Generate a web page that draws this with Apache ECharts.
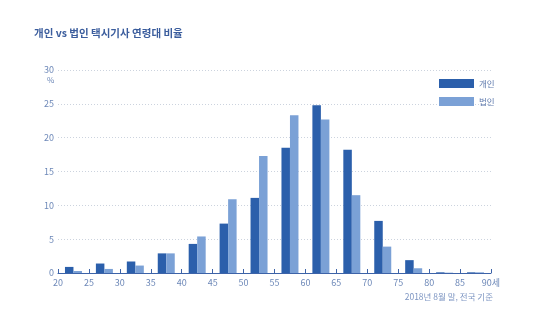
<!DOCTYPE html>
<html><head><meta charset="utf-8">
<script src="https://cdn.jsdelivr.net/npm/echarts@6/dist/echarts.min.js"></script>
<style>html,body{margin:0;padding:0;background:#fff}#c{width:540px;height:330px}</style>
</head><body><div id="c"></div>
<script>
var categories = ['20','25','30','35','40','45','50','55','60','65','70','75','80','85'];
var personal = [0.9,1.4,1.7,2.9,4.3,7.3,11.1,18.5,24.8,18.2,7.7,1.9,0.1,0.1];
var corporate = [0.3,0.6,1.1,2.9,5.4,10.9,17.3,23.3,22.7,11.5,3.9,0.7,0.05,0.1];
var seriesNames = ['개인','법인'];
var xTicks = [20,25,30,35,40,45,50,55,60,65,70,75,80,85,90];
var yTicks = [0,5,10,15,20,25,30];

var FONT = '"Noto Sans CJK KR", "Noto Sans", sans-serif';
var TICKC = '#6d88b8';
var chart = echarts.init(document.getElementById('c'), null, {renderer:'canvas'});
chart.setOption({
  animation:false,
  textStyle:{fontFamily:FONT},
  title:{text:'개인 vs 법인 택시기사 연령대 비율', left:29, top:23,
    textStyle:{fontSize:10.5, fontWeight:'bold', color:'#3b5d9d', fontFamily:FONT}},
  legend:{orient:'vertical', left:434, top:74, itemWidth:35, itemHeight:9, itemGap:9,
    icon:'rect', textStyle:{fontSize:8.5, color:'#5f7aad', fontFamily:FONT},
    data:seriesNames},
  grid:{left:58, right:49, top:70, bottom:57},
  xAxis:[{
    type:'category', data:categories, boundaryGap:true,
    axisLine:{show:false}, axisTick:{show:false}, axisLabel:{show:false}, splitLine:{show:false}
  },{
    type:'value', min:xTicks[0], max:xTicks[xTicks.length-1], interval:5, position:'bottom',
    axisLine:{show:true, lineStyle:{color:'#3d63a8', width:1}},
    axisTick:{show:true, inside:true, length:4, lineStyle:{color:'#3d63a8'}},
    axisLabel:{color:TICKC, fontSize:9, margin:5, fontFamily:FONT,
      formatter:function(v){return v===90?'90세':String(v);}},
    splitLine:{show:false}
  }],
  yAxis:{type:'value', min:yTicks[0], max:yTicks[yTicks.length-1], interval:5,
    axisLine:{show:false}, axisTick:{show:false},
    axisLabel:{color:TICKC, fontSize:9, margin:4, fontFamily:FONT},
    splitLine:{show:true, lineStyle:{color:'#ccd3de', type:[1,2], width:1}}},
  graphic:[
    {type:'text', left:47, top:76, style:{text:'%', fill:TICKC, font:'8px '+FONT}},
    {type:'text', right:47, top:293, style:{text:'2018년 8월 말, 전국 기준', fill:'#7d95c2', font:'8.5px '+FONT}}
  ],
  series:[
    {name:seriesNames[0], type:'bar', xAxisIndex:0, data:personal, barWidth:8.5, barGap:'0%',
      itemStyle:{color:'#2b5fab'}},
    {name:seriesNames[1], type:'bar', xAxisIndex:0, data:corporate, barWidth:8.5, barGap:'0%',
      itemStyle:{color:'#7ba1d6'}}
  ]
});
</script></body></html>
